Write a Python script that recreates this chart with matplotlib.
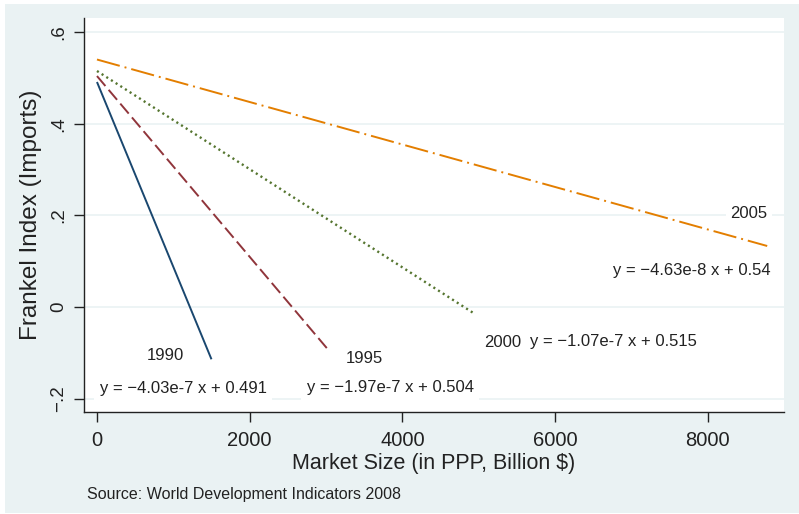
import matplotlib
matplotlib.use("Agg")
import matplotlib.pyplot as plt
from matplotlib.patches import Rectangle
import numpy as np

plt.rcParams["font.family"] = ["Liberation Sans", "DejaVu Sans"]
plt.rcParams["lines.scale_dashes"] = False

# Fitted lines: y = intercept + slope * x (x in millions of $, axis in billions)
years = ["1990", "1995", "2000", "2005"]
slopes = [-4.03e-7, -1.97e-7, -1.07e-7, -4.63e-8]
intercepts = [0.491, 0.504, 0.515, 0.54]
x_min = [0, 0, 0, 0]
x_max = [1500, 3030, 4950, 8780]
equations = ["y = \u22124.03e-7 x + 0.491", "y = \u22121.97e-7 x + 0.504",
             "y = \u22121.07e-7 x + 0.515", "y = \u22124.63e-8 x + 0.54"]

colors = ["#1a476f", "#90353b", "#55752f", "#e37e00"]
styles = ["-", (0, (9.4, 3.6)), (0, (1.5, 2.5)), (0, (17, 3.6, 1.4, 3.6))]
widths = [1.4, 1.4, 1.7, 1.4]

# annotation anchors (data coords)
year_lbl_x = [894, 3500, 5310, 8540]
year_lbl_y = [-0.105, -0.111, -0.076, 0.205]
eq_lbl_x = [1130, 3840, 6760, 7790]
eq_lbl_y = [-0.177, -0.174, -0.074, 0.081]

yticks = [-0.2, 0, 0.2, 0.4, 0.6]
ytick_labels = ["\u2212.2", "0", ".2", ".4", ".6"]
xticks = [0, 2000, 4000, 6000, 8000]

bg = "#eaf2f3"
ink = "#222222"
fig = plt.figure(figsize=(7.99, 5.14), dpi=100, facecolor="white")
fig.patches.append(Rectangle((5 / 799, 1 / 514), 794 / 799, 509 / 514,
                             transform=fig.transFigure, facecolor=bg,
                             edgecolor="none", zorder=-10))
ax = fig.add_axes([84 / 799, 102 / 514, 700 / 799, 394 / 514])
ax.set_facecolor("white")

for i in range(4):
    xs = np.array([x_min[i], x_max[i]], dtype=float)
    ys = intercepts[i] + slopes[i] * xs * 1000
    ax.plot(xs, ys, color=colors[i], linestyle=styles[i], lw=widths[i],
            solid_capstyle="butt", dash_capstyle="butt", zorder=3)
    ax.text(year_lbl_x[i], year_lbl_y[i], years[i], ha="center", va="center",
            fontsize=12, color=ink, zorder=4,
            bbox=dict(facecolor="white", edgecolor="none", pad=3))
    ax.text(eq_lbl_x[i], eq_lbl_y[i], equations[i], ha="center", va="center",
            fontsize=12, color=ink, zorder=4, clip_on=False,
            bbox=dict(facecolor="white", edgecolor="none", pad=4))

ax.set_xlim(-170, 9000)
ax.set_ylim(-0.2284, 0.6305)
ax.set_yticks(yticks)
ax.set_yticklabels(ytick_labels, rotation=90, va="center")
ax.set_xticks(xticks)
ax.yaxis.grid(True, color=bg, lw=1.2, zorder=0)
ax.set_axisbelow(True)

for s in ["top", "right"]:
    ax.spines[s].set_visible(False)
for s in ["left", "bottom"]:
    ax.spines[s].set_color(ink)
    ax.spines[s].set_linewidth(1.0)

ax.tick_params(axis="both", direction="out", length=7, width=1.0,
               color=ink, labelcolor=ink)
ax.tick_params(axis="y", pad=5, labelsize=13.5)
ax.tick_params(axis="x", pad=7, labelsize=14.5)

ax.set_xlabel("Market Size (in PPP, Billion $)", fontsize=15.5, color=ink,
              labelpad=2)
ax.set_ylabel("Frankel Index (Imports)", fontsize=17.5, color=ink,
              labelpad=6)

fig.text(87 / 799, 1 - 494 / 514, "Source: World Development Indicators 2008",
         fontsize=11.5, color=ink, ha="left", va="center")

fig.savefig("out.png", dpi=100, facecolor=fig.get_facecolor())
